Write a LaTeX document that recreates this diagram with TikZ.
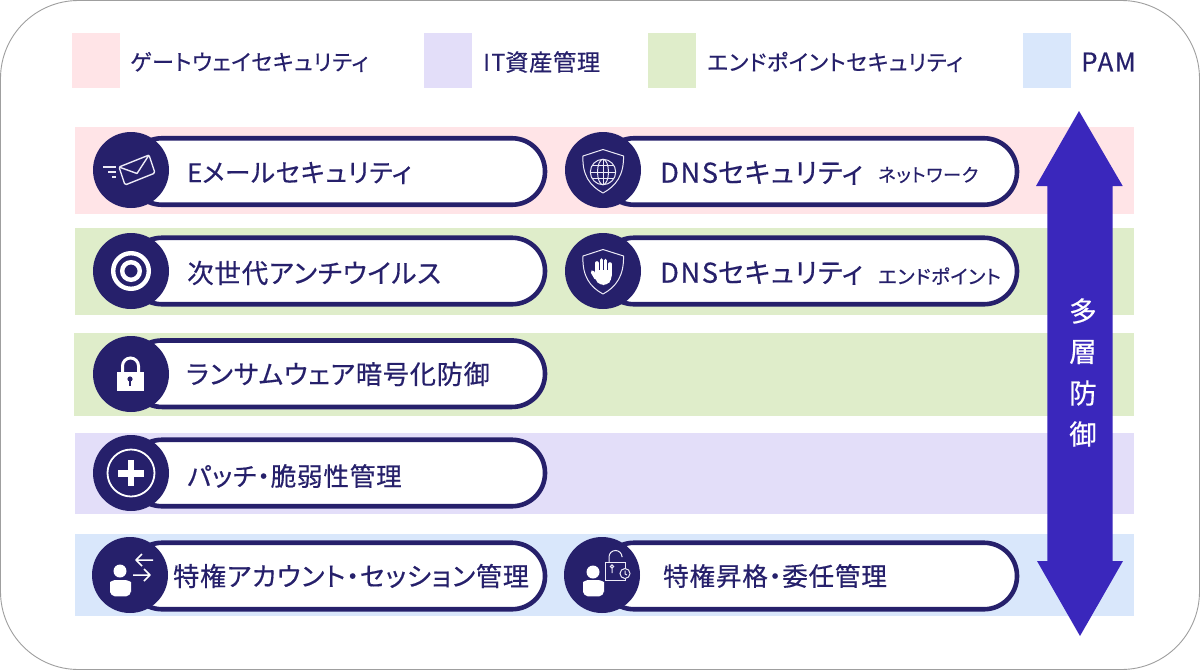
\documentclass[tikz,border=0pt]{standalone}
\usepackage{fontspec}
\setmainfont{Noto Sans CJK JP}
\newfontfamily\lab[RawFeature=+palt,LetterSpace=3,FakeBold=0.45]{Noto Sans CJK JP}
\newfontfamily\lat[LetterSpace=6,FakeBold=0.45]{Noto Sans CJK JP}
\definecolor{navy}{HTML}{26206B}
\definecolor{bpink}{HTML}{FFE4E7}
\definecolor{bgreen}{HTML}{DFEDCA}
\definecolor{bpurple}{HTML}{E3DEF9}
\definecolor{bblue}{HTML}{D9E7FB}
\definecolor{arrowblue}{HTML}{3A27BC}
\definecolor{iconline}{HTML}{EDEBF7}
\tikzset{
  x=1pt,y=-1pt,
  band/.style={anchor=north west,inner sep=0,outer sep=0},
  swatch/.style={anchor=north west,inner sep=0,outer sep=0,minimum width=48pt,minimum height=55pt},
  pill/.style={anchor=west,draw=navy,line width=4.6pt,fill=white,rounded corners=33pt,inner sep=0,outer sep=0,minimum height=66.5pt},
  disc/.style={circle,fill=navy,minimum size=76pt,inner sep=0},
  txt/.style={anchor=west,inner sep=0,text=navy,font=\lab\fontsize{#1}{30}\selectfont},
  vert/.style={inner sep=0,text=white,font=\lab\fontsize{27.5}{30}\selectfont},
  thin icon/.style={draw=iconline,line width=1pt}
}
\begin{document}
\begin{tikzpicture}
\useasboundingbox (0,0) rectangle (1200,670);
\draw[draw=gray!75,line width=0.9pt,fill=white,rounded corners=78pt] (0.5,0.5) rectangle (1199.5,669.5);
% legend
\node[swatch,fill=bpink] (s1) at (72,33) {};
\node[swatch,fill=bpurple] (s2) at (424,33) {};
\node[swatch,fill=bgreen] (s3) at (648,33) {};
\node[swatch,fill=bblue] (s4) at (1023,33) {};
\node[txt=22] (l1) at (130,62) {ゲートウェイセキュリティ};
\node[txt=23.2] (l2) at (483,62) {{\lat IT}資産管理};
\node[txt=21.9] (l3) at (707,62) {エンドポイントセキュリティ};
\node[txt=25.5,font=\lat\fontsize{25.8}{28}\selectfont] (l4) at (1081,62) {PAM};
% bands
\node[band,fill=bpink,minimum width=1059pt,minimum height=87pt] (b1) at (75,127) {};
\node[band,fill=bgreen,minimum width=1059pt,minimum height=87pt] (b2) at (75,228) {};
\node[band,fill=bgreen,minimum width=1060pt,minimum height=83pt] (b3) at (74,333) {};
\node[band,fill=bpurple,minimum width=1059pt,minimum height=81pt] (b4) at (75,433) {};
\node[band,fill=bblue,minimum width=1059pt,minimum height=82pt] (b5) at (75,534) {};
% pills
\node[pill,minimum width=416pt] (p1) at (129,171.5) {};
\node[pill,minimum width=416pt] (p2) at (601,171.5) {};
\node[pill,minimum width=416pt] (p3) at (129,271) {};
\node[pill,minimum width=416pt] (p4) at (601,271) {};
\node[pill,minimum width=416pt] (p5) at (129,373.7) {};
\node[pill,minimum width=416pt] (p6) at (129,473) {};
\node[pill,minimum width=416pt] (p7) at (129,576) {};
\node[pill,minimum width=416pt] (p8) at (601,576) {};
% discs
\node[disc] (c1) at (131,170) {};
\node[disc] (c2) at (603,170) {};
\node[disc] (c3) at (131,271) {};
\node[disc] (c4) at (603,271) {};
\node[disc] (c5) at (131,374) {};
\node[disc] (c6) at (131,473) {};
\node[disc] (c7) at (130,575) {};
\node[disc] (c8) at (602,575) {};
% texts
\node[txt=25.5] (t1) at (187,173) {{\lat E}メールセキュリティ};
\node[txt=27.2] (t2) at (660,173) {{\lat DNS}セキュリティ};
\node[txt=18.4] (t2s) at (878,175) {ネットワーク};
\node[txt=26.5] (t3) at (187,273) {次世代アンチウイルス};
\node[txt=27.2] (t4) at (660,273) {{\lat DNS}セキュリティ};
\node[txt=19.4] (t4s) at (878,276) {エンドポイント};
\node[txt=26.2] (t5) at (186,374) {ランサムウェア暗号化防御};
\node[txt=25.6] (t6) at (187,476) {パッチ・脆弱性管理};
\node[txt=26.1] (t7) at (173,576) {特権アカウント・セッション管理};
\node[txt=25.6] (t8) at (663,576) {特権昇格・委任管理};
% double arrow
\fill[arrowblue] (1079,111) -- (1122.7,186) -- (1112.7,186) -- (1112.7,561) -- (1123,561) -- (1080,636) -- (1037,561) -- (1047.3,561) -- (1047.3,186) -- (1036,186) -- cycle;
\node[vert] (v1) at (1083,311) {多};
\node[vert] (v2) at (1083,352) {層};
\node[vert] (v3) at (1083,393) {防};
\node[vert] (v4) at (1083,434) {御};
% mail icon
\begin{scope}[thin icon,line width=1.4pt,line join=round]
\draw[rounded corners=1.5pt] (119,167) -- (149,155) -- (155,173) -- (125,185) -- cycle;
\draw (119,167) -- (137,173.5) -- (149,155);
\draw (103,167) -- (116,167) (108,172) -- (116,172) (112,177) -- (116,177);
\end{scope}
% target icon
\draw[white,line width=4.4pt] (c3.center) circle (17.8);
\draw[white,line width=4.4pt] (c3.center) circle (8.8);
% shield globe
\draw[thin icon,line join=round] (603,149.5) -- (583,156) .. controls (582,175) and (590,186) .. (603,193) .. controls (616,186) and (624,175) .. (623.5,156) -- cycle;
\begin{scope}[thin icon]
\draw (603,172) circle (12.7);
\draw (603,172) ellipse (5.5 and 12.7);
\draw (590.3,172) -- (615.7,172) (603,159.3) -- (603,184.7);
\draw (592,165.5) -- (614,165.5) (592,178.5) -- (614,178.5);
\end{scope}
% shield hand
\draw[thin icon,line join=round] (603,249.5) -- (583,256) .. controls (582,276) and (590,287) .. (603,294) .. controls (616,287) and (624,276) .. (623.5,256) -- cycle;
\begin{scope}[white,line width=3.6pt,line cap=round]
\draw (597,263) -- (597,275) (601.3,260) -- (601.3,275) (605.6,260.5) -- (605.6,275) (609.8,264) -- (609.8,275);
\draw (592.5,272) -- (596,278);
\end{scope}
\fill[white,rounded corners=4pt] (595,270) -- (611.6,270) -- (611.6,280) -- (607,285) -- (600,285) -- (595,280) -- cycle;
% lock icon
\fill[white] (117,372) rectangle (144,391);
\draw[white,line width=3pt] (122.5,372) -- (122.5,366) arc[start angle=180,end angle=360,radius=8] -- (138.5,372);
\fill[navy] (130,379) circle (2.6);
\fill[navy] (129,379) rectangle (131,386);
% plus icon
\draw[white,line width=1.8pt] (c6.center) circle (23.5);
\fill[white] (117.5,470) rectangle (144,476.5);
\fill[white] (127.5,459.5) rectangle (134,486);
% person + arrows
\fill[white] (120,571) circle (6.5);
\fill[white,rounded corners=5pt] (110,596) -- (110,587) .. controls (110,582) and (114,580) .. (120,580) .. controls (127,580) and (131,582) .. (131,587) -- (131,596) .. controls (125,596.5) and (116,596.5) .. cycle;
\begin{scope}[white,line width=1.5pt,line join=round]
\draw (136,560) -- (153,560) (142,554) -- (136,560) -- (142,566);
\draw (133,575) -- (150,575) (144,569) -- (150,575) -- (144,581);
\end{scope}
% person + open lock
\fill[white] (593,572) circle (6.5);
\fill[white,rounded corners=5pt] (583,596) -- (583,587) .. controls (583,582) and (587,580) .. (593,580) .. controls (600,580) and (604,582) .. (604,587) -- (604,596) .. controls (598,596.5) and (589,596.5) .. cycle;
\begin{scope}[thin icon]
\draw (605,562) rectangle (625,580);
\draw (609,562) -- (609,557) arc[start angle=180,end angle=360,radius=6.5] -- (622,556);
\draw (612,573) -- (612,568) (612,566.5) circle (1.6);
\draw[fill=navy] (625,573.5) circle (5);
\draw (625,570.5) -- (625,574) -- (627,575);
\end{scope}
\end{tikzpicture}
\end{document}
